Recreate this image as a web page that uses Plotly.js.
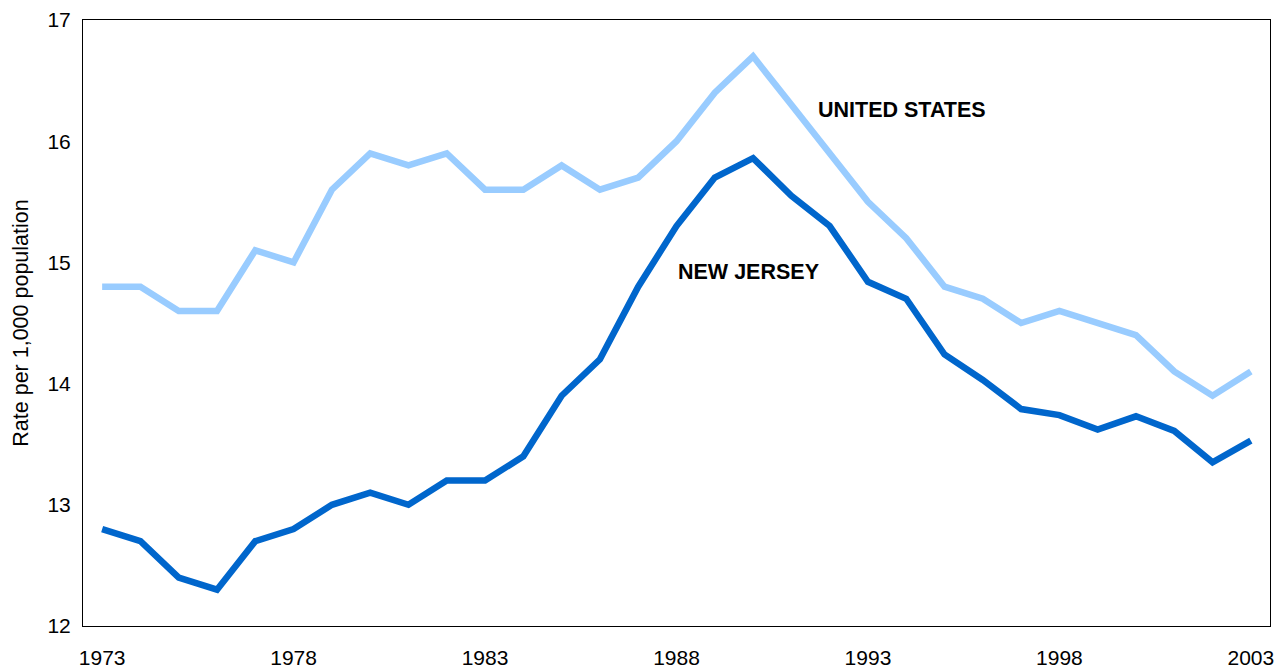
<!DOCTYPE html>
<html>
<head>
<meta charset="utf-8">
<script src="https://cdn.plot.ly/plotly-3.0.1.min.js"></script>
<style>
  html, body { margin: 0; padding: 0; background: #fff; }
  #chart { width: 1286px; height: 671px; }
</style>
</head>
<body>
<div id="chart"></div>
<script>
const years = [1973,1974,1975,1976,1977,1978,1979,1980,1981,1982,1983,1984,1985,1986,1987,1988,1989,1990,1991,1992,1993,1994,1995,1996,1997,1998,1999,2000,2001,2002,2003];
const unitedStates = [14.8,14.8,14.6,14.6,15.1,15.0,15.6,15.9,15.8,15.9,15.6,15.6,15.8,15.6,15.7,16.0,16.4,16.7,16.3,15.9,15.5,15.2,14.8,14.7,14.5,14.6,14.5,14.4,14.1,13.9,14.1];
const newJersey = [12.8,12.7,12.4,12.3,12.7,12.8,13.0,13.1,13.0,13.2,13.2,13.4,13.9,14.2,14.8,15.3,15.7,15.86,15.55,15.3,14.84,14.7,14.24,14.03,13.79,13.74,13.62,13.73,13.61,13.35,13.53];
const xTickVals = [1973,1978,1983,1988,1993,1998,2003];
const yTickVals = [12,13,14,15,16,17];
const seriesNames = ['UNITED STATES','NEW JERSEY'];
const yTitle = 'Rate per 1,000 population';

const font = 'Arial, "Liberation Sans", sans-serif';

const traces = [
  { x: years, y: unitedStates, name: seriesNames[0], type: 'scatter', mode: 'lines',
    line: { color: '#99CCFF', width: 6.5, shape: 'linear' } },
  { x: years, y: newJersey, name: seriesNames[1], type: 'scatter', mode: 'lines',
    line: { color: '#0066CC', width: 6.5, shape: 'linear' } }
];

const layout = {
  width: 1286, height: 671,
  margin: { l: 83, r: 16, t: 20, b: 45, pad: 0 },
  paper_bgcolor: '#fff', plot_bgcolor: '#fff',
  showlegend: false,
  font: { family: font, size: 21, color: '#000' },
  xaxis: {
    range: [1972.5, 2003.5], tickvals: xTickVals, ticktext: xTickVals.map(String),
    showgrid: false, zeroline: false, ticks: '', showline: true, mirror: true,
    linecolor: '#000', linewidth: 1, ticklabelstandoff: 13,
    tickfont: { family: font, size: 21, color: '#000' }
  },
  yaxis: {
    range: [12, 17], tickvals: yTickVals, showgrid: false, zeroline: false,
    ticks: '', showline: true, mirror: true, linecolor: '#000', linewidth: 1,
    ticklabelstandoff: 7,
    tickfont: { family: font, size: 21, color: '#000' },
    title: { text: yTitle, font: { family: font, size: 21.5, color: '#000' }, standoff: 12 }
  },
  annotations: [
    { x: 1993.9, y: 16.26, xref: 'x', yref: 'y', text: '<b>' + seriesNames[0] + '</b>',
      showarrow: false, font: { family: font, size: 21.5, color: '#000' }, xanchor: 'center', yanchor: 'middle' },
    { x: 1989.87, y: 14.92, xref: 'x', yref: 'y', text: '<b>' + seriesNames[1] + '</b>',
      showarrow: false, font: { family: font, size: 21.5, color: '#000' }, xanchor: 'center', yanchor: 'middle' }
  ]
};

Plotly.newPlot('chart', traces, layout, { displayModeBar: false, staticPlot: true });
</script>
</body>
</html>
